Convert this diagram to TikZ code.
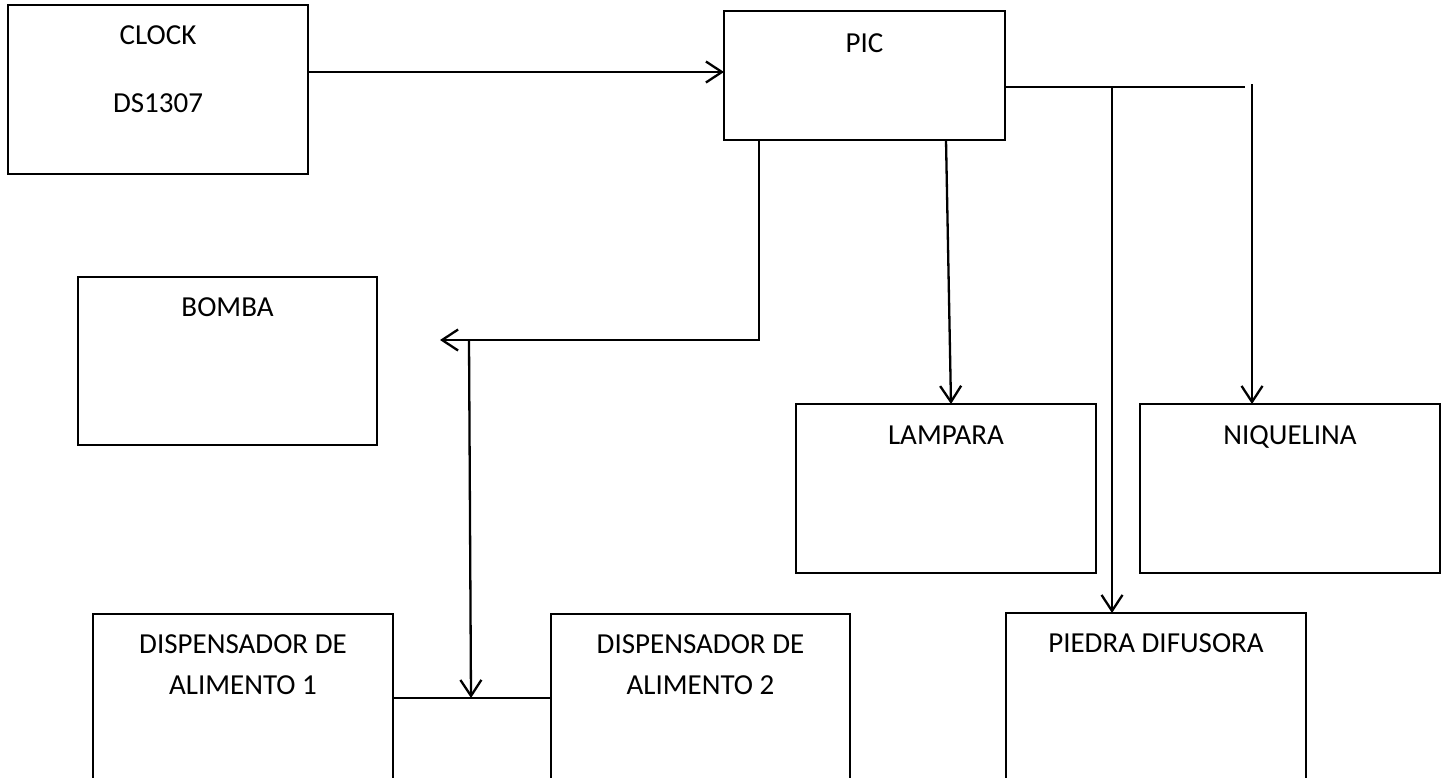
\documentclass[tikz,border=0pt]{standalone}
\usepackage{fontspec}
\setmainfont{Carlito}
\usetikzlibrary{arrows.meta}
\begin{document}
\begin{tikzpicture}[x=1pt,y=-1pt,
  box/.style={draw, line width=2.3pt, inner sep=0pt, outer sep=0pt},
  txt/.style={font=\fontsize{29}{33}\selectfont, anchor=base, inner sep=0pt},
  wire/.style={line width=2.3pt},
  arr/.style={line width=2.3pt, -{Straight Barb[length=16pt,width=21pt,line width=2.3pt]}}]
\useasboundingbox (0,0) rectangle (1447,777);
\clip (0,0) rectangle (1447,777);
\fill[white] (0,0) rectangle (1447,777);
% boxes
\node[box, minimum width=300pt, minimum height=169pt] (clock) at (158,89.5) {};
\node[box, minimum width=281pt, minimum height=129pt] (pic) at (864.5,75.5) {};
\node[box, minimum width=299pt, minimum height=168pt] (bomba) at (227.5,361) {};
\node[box, minimum width=300pt, minimum height=169pt] (lampara) at (946,488.5) {};
\node[box, minimum width=300pt, minimum height=169pt] (niquelina) at (1290,488.5) {};
\node[box, minimum width=300pt, minimum height=186pt] (da1) at (243,707) {};
\node[box, minimum width=299pt, minimum height=186pt] (da2) at (700.5,707) {};
\node[box, minimum width=300pt, minimum height=187pt] (piedra) at (1156,706.5) {};
% texts
\node[txt] (tclock) at (158,44) {CLOCK};
\node[txt] (tds) at (158,112) {DS1307};
\node[txt] (tpic) at (864.5,52) {PIC};
\node[txt] (tbomba) at (227.5,316) {BOMBA};
\node[txt] (tlampara) at (946,444) {LAMPARA};
\node[txt] (tniq) at (1290,444) {NIQUELINA};
\node[txt] (tda1a) at (243,653) {DISPENSADOR DE};
\node[txt] (tda1b) at (243,694) {ALIMENTO 1};
\node[txt] (tda2a) at (700.5,653) {DISPENSADOR DE};
\node[txt] (tda2b) at (700.5,694) {ALIMENTO 2};
\node[txt] (tpiedra) at (1156,652) {PIEDRA DIFUSORA};
% connector points
\coordinate (yclk) at (0,72);
\coordinate (busR) at (1245,87);
\coordinate (dropP) at (1112,87);
\coordinate (dropN) at (1252,84);
\coordinate (lampS) at (946,140);
\coordinate (picS) at (759,140);
\coordinate (bend) at (759,340);
\coordinate (leftTip) at (440,340);
\coordinate (dispTop) at (469,340);
\coordinate (dispStub) at (530,340);
\coordinate (dispJ) at (471,698);
% connectors
\draw[arr] (clock.east |- yclk) -- (pic.west |- yclk);
\draw[wire] (pic.east |- busR) -- (busR);
\draw[arr] (dropP) -- (dropP |- piedra.north);
\draw[arr] (dropN) -- (dropN |- niquelina.north);
\draw[arr] (lampS) -- ([xshift=5pt]lampara.north);
\draw[arr] (picS) -- (bend) -- (leftTip);
\draw[line width=2.9pt] (dispTop) -- (dispStub);
\draw[arr] (dispTop) -- (dispJ);
\draw[wire] (da1.east |- dispJ) -- (da2.west |- dispJ);
\end{tikzpicture}
\end{document}
